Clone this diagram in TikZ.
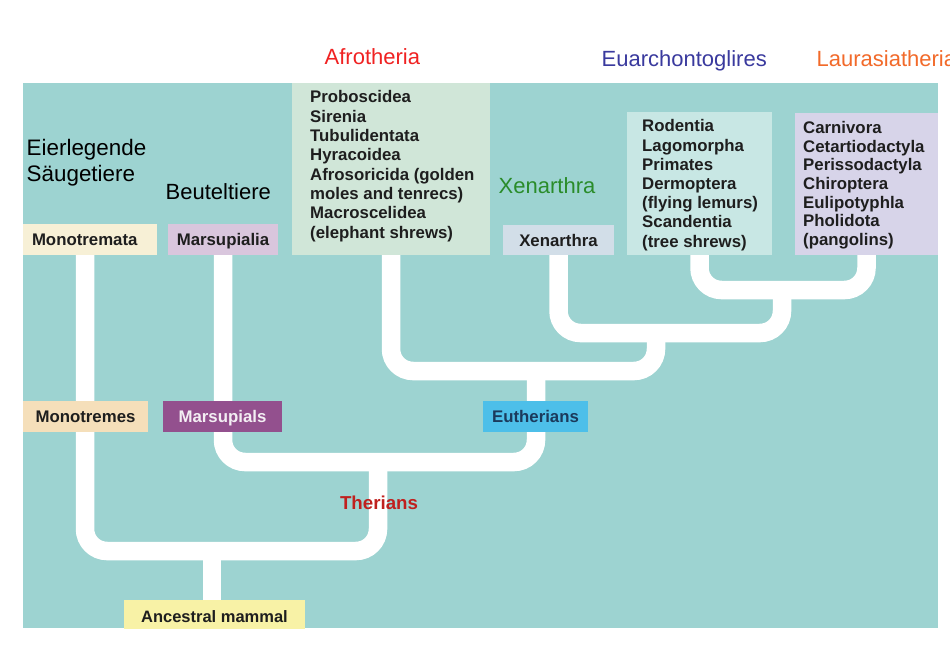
\documentclass[tikz,border=0pt]{standalone}
\usepackage{fontspec}
\setmainfont{Liberation Sans}
\usetikzlibrary{calc}
\definecolor{bgteal}{HTML}{9DD3D1}
\definecolor{cMonotremata}{HTML}{F7F0D6}
\definecolor{cMarsupialia}{HTML}{D9C6DD}
\definecolor{cAfro}{HTML}{D0E6D8}
\definecolor{cXen}{HTML}{D2DEE8}
\definecolor{cEua}{HTML}{C8E7E4}
\definecolor{cLau}{HTML}{D7D4E9}
\definecolor{cMonotremes}{HTML}{F5DFBA}
\definecolor{cMarsupials}{HTML}{93508E}
\definecolor{cEutherians}{HTML}{4DBFE9}
\definecolor{cAncestral}{HTML}{F8F2A6}
\definecolor{boxtext}{HTML}{1E1E1E}
\definecolor{navytext}{HTML}{1B3A5C}
\definecolor{paletext}{HTML}{F3EEF3}
\definecolor{therred}{HTML}{C0201E}
\definecolor{afrored}{HTML}{F02222}
\definecolor{euablue}{HTML}{3A3A9E}
\definecolor{lauorange}{HTML}{F26A2A}
\definecolor{xengreen}{HTML}{2A8C2A}
\begin{document}
\begin{tikzpicture}[x=1pt,y=-1pt,
  bigtitle/.style={font=\fontsize{22}{26.5}\selectfont, anchor=base west, inner sep=0pt},
  boxbase/.style={inner sep=0pt, text=boxtext, font=\fontsize{16.8}{19.3}\selectfont\bfseries},
  onebox/.style={boxbase, text height=12pt, text depth=0pt, minimum height=31pt},
  listbox/.style={inner sep=0pt},
  listtext/.style={boxbase, anchor=west, align=left},
  branch/.style={draw=white, line width=18.5pt, rounded corners=22pt}]
\useasboundingbox (0,0) rectangle (950,646);
\fill[white] (0,0) rectangle (950,646);
\fill[bgteal] (23,83) rectangle (938,628);
% group titles above
\node[bigtitle, text=afrored] (tAfro) at (324.5,64) {Afrotheria};
\node[bigtitle, text=euablue] (tEua) at (601.5,66.5) {Euarchontoglires};
\node[bigtitle, text=lauorange] (tLau) at (816.5,66.5) {Laurasiatheria};
\begin{scope}
\clip (23,83) rectangle (938,628);
% labels
\node[font=\fontsize{22.4}{26.5}\selectfont, anchor=west, align=left, inner sep=0pt] (tEier) at (26.5,162.6) {Eierlegende\\Säugetiere};
\node[bigtitle] (tBeutel) at (165.5,199) {Beuteltiere};
\node[bigtitle, text=xengreen] (tXen) at (498.5,193) {Xenarthra};
% top boxes
\node[onebox, fill=cMonotremata, align=left, text width=116pt, inner xsep=9pt] (monotremata) at (90,239.5) {Monotremata};
\node[onebox, fill=cMarsupialia, minimum width=110pt] (marsupialia) at (223,239.5) {Marsupialia};
\node[onebox, fill=cXen, minimum width=111pt, minimum height=30pt] (xenbox) at (558.5,240) {Xenarthra};
\node[listbox, fill=cAfro, minimum width=198pt, minimum height=172pt] (afro) at (391,169) {};
\node[listtext] (afroText) at (310,166.2) {Proboscidea\\Sirenia\\Tubulidentata\\Hyracoidea\\Afrosoricida (golden\\moles and tenrecs)\\Macroscelidea\\(elephant shrews)};
\node[listbox, fill=cEua, minimum width=145pt, minimum height=143pt] (euarch) at (699.5,183.5) {};
\node[listtext, font=\fontsize{16.8}{19.2}\selectfont\bfseries] (euaText) at (642,185.2) {Rodentia\\Lagomorpha\\Primates\\Dermoptera\\(flying lemurs)\\Scandentia\\(tree shrews)};
\node[listbox, fill=cLau, minimum width=143pt, minimum height=142pt] (laura) at (866.5,184) {};
\node[listtext, font=\fontsize{16.8}{18.7}\selectfont\bfseries] (lauText) at (803,185.1) {Carnivora\\Cetartiodactyla\\Perissodactyla\\Chiroptera\\Eulipotyphla\\Pholidota\\(pangolins)};
\node[boxbase, fill=cAncestral, font=\fontsize{16.5}{18}\selectfont\bfseries, text height=11.8pt, text depth=0pt, minimum width=181pt, minimum height=33pt] (ancestral) at (214.5,616.8) {Ancestral mammal};
% junctions
\coordinate (nBoreo) at (782,290);
\coordinate (nXB) at (656,333);
\coordinate (nEuth) at (536,371);
\coordinate (nTher) at (378,462);
\coordinate (nMam) at (212,551);
% branches
\draw[branch] (euarch.south) |- (nBoreo) -| (laura.south);
\draw[branch] (xenbox.south) |- (nXB) -| (nBoreo);
\draw[branch] (afro.south) |- (nEuth) -| (nXB);
\draw[branch] (marsupialia.south) |- (nTher) -| (nEuth);
\draw[branch] ([xshift=-5pt]monotremata.south) |- (nMam) -| (nTher);
\draw[branch] (nMam) -- ([xshift=-2.5pt]ancestral.north);
% lower boxes
\node[onebox, fill=cMonotremes, minimum width=125pt] (monotremes) at (85.5,416.5) {Monotremes};
\node[onebox, fill=cMarsupials, text=paletext, minimum width=119pt] (marsupials) at (222.5,416.5) {Marsupials};
\node[onebox, fill=cEutherians, text=navytext, minimum width=105pt] (eutherians) at (535.5,416.5) {Eutherians};
\node[font=\fontsize{18.7}{22}\selectfont\bfseries, text=therred, anchor=base, inner sep=0pt] (therians) at (379,509.3) {Therians};
\end{scope}
\end{tikzpicture}
\end{document}
